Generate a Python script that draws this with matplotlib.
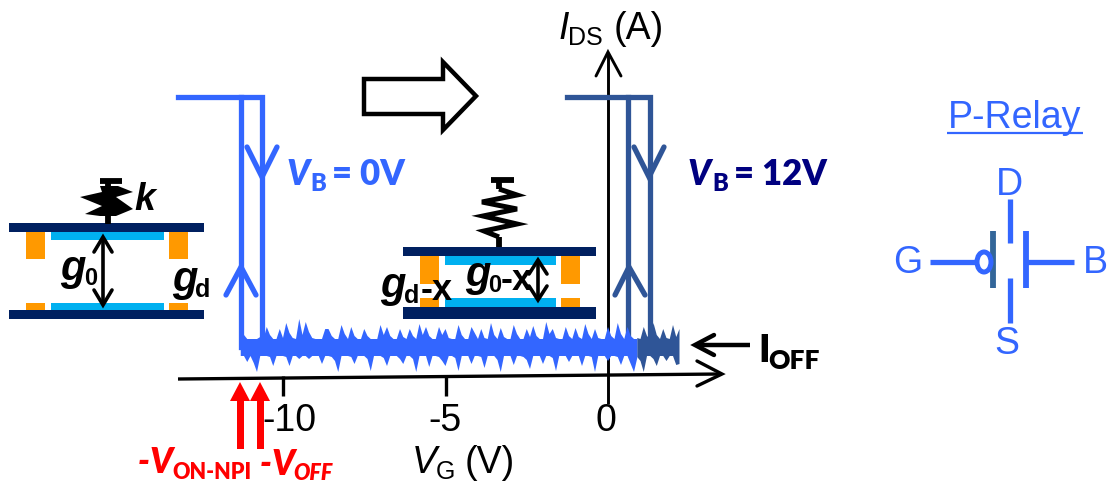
import numpy as np
import matplotlib
matplotlib.use("Agg")
import matplotlib.pyplot as plt
from matplotlib.patches import Rectangle, Ellipse, Polygon

plt.rcParams['font.family'] = ['Liberation Sans', 'DejaVu Sans']

BLUE = '#3366FF'
DARK = '#2F5597'
NAVY = '#002060'
CYAN = '#00B0F0'
ORANGE = '#FF9900'
RED = '#FF0000'
LABEL_NAVY = '#000080'

# sweep curves: gate voltage (V) and level above the off current
on_level = 250
off_level = 0
blue_vg = [-13.23, -10.65, -10.65]
blue_up_vg = [-11.29, -11.29]
dark_vg = [-1.26, 1.29, 1.29]
dark_up_vg = [0.62, 0.62]

# noise floor, one value every 0.1 V
noise_start = -11.3
noise_top = [19, 12, 8, 8, 8, 8, 10, 8, 20, 12, 8, 8, 18, 9, 24, 14, 9, 8, 28, 12,
             25, 15, 9, 8, 8, 8, 18, 18, 11, 8, 8, 22, 13, 8, 20, 11, 8, 8, 18, 11,
             8, 8, 8, 22, 12, 20, 11, 8, 8, 18, 10, 8, 18, 11, 8, 23, 12, 20, 11, 8,
             8, 20, 12, 18, 9, 8, 8, 22, 12, 8, 8, 20, 14, 8, 18, 9, 8, 24, 12, 8,
             19, 10, 8, 8, 22, 13, 8, 8, 18, 10, 21, 11, 8, 8, 25, 13, 18, 9, 8, 8,
             20, 11, 8, 19, 10, 8, 23, 13, 8, 18, 9, 8, 8, 20, 11, 8, 24, 13, 8, 20,
             11, 8, 8]
noise_bot = [-9, -9, -15, -9, -16, -25, -9, -9, -9, -10, -19, -9, -9, -9, -10, -19, -9, -9, -12, -9,
             -9, -12, -9, -9, -9, -17, -9, -9, -10, -14, -25, -9, -9, -9, -10, -17, -9, -9, -9, -12,
             -24, -9, -9, -9, -11, -19, -9, -9, -9, -12, -17, -9, -9, -12, -25, -9, -9, -9, -20, -9,
             -9, -10, -14, -19, -9, -9, -11, -24, -9, -9, -9, -17, -9, -9, -10, -21, -9, -9, -9, -13,
             -25, -9, -9, -9, -18, -9, -9, -10, -13, -22, -9, -9, -9, -17, -9, -9, -11, -24, -9, -9,
             -9, -15, -9, -9, -9, -19, -9, -9, -10, -25, -9, -9, -9, -14, -9, -9, -10, -18, -9, -9,
             -17, -25, -11]
dark_start = 0.9
dark_top = [9, 8, 20, 11, 8, 24, 12, 8, 18, 9, 8, 22, 10, 18]
dark_bot = [-10, -14, -25, -9, -9, -12, -19, -9, -9, -14, -9, -9, -18, -17]

# axis ticks
tick_vg = [-10, -5, 0]
tick_labels = ['-10', '-5', '0']
tick_label_px = [289, 445, 606]

# schematic geometry, figure pixels
spring1 = [(100, 187), (118, 187), (133, 193), (116, 198), (133, 210), (116, 217), (100, 217),
           (85, 215), (102, 207), (80, 198), (102, 193)]
spring2 = [(499, 190), (517, 196), (482, 203), (517, 210), (483, 217), (517, 225), (484, 232), (499, 238)]
hollow_arrow = [(364, 80), (443, 80), (443, 63), (476, 97), (443, 131), (443, 115), (364, 115)]

fig = plt.figure(figsize=(11.08, 4.85), dpi=100)

# pixel axes for the drawn schematic parts
ax = fig.add_axes([0, 0, 1, 1])
ax.set_xlim(0, 1108)
ax.set_ylim(485, 0)
ax.axis('off')

# I-V axes on top, same area
iv = fig.add_axes([0, 0, 1, 1])
iv.set_xlim((0 - 608) / 32.5, (1108 - 608) / 32.5)
iv.set_ylim(-137, 348)
iv.axis('off')
iv.patch.set_alpha(0)


def line(pts, color='black', lw=3.0, z=5, cap='butt'):
    xs = [p[0] for p in pts]
    ys = [p[1] for p in pts]
    ax.plot(xs, ys, color=color, lw=lw, zorder=z, solid_capstyle=cap, solid_joinstyle='miter')


def rect(x0, y0, x1, y1, color, z=6):
    ax.add_patch(Rectangle((x0, y0), x1 - x0, y1 - y0, color=color, lw=0, zorder=z))


def txt(x, y, s, size=27, color='black', weight='normal', style='normal', ha='left', family='Liberation Sans'):
    ax.text(x, y, s, fontsize=size, color=color, fontweight=weight, fontstyle=style,
            ha=ha, va='baseline', zorder=12, family=family)


# axes arrows
line([(178, 380), (722, 375)], lw=2.4)
line([(697, 362), (722, 375), (697, 387)], lw=2.4, cap='round')
line([(608, 405), (608, 55)], lw=2.1)
line([(596, 77), (608, 53), (621, 77)], lw=2.1, cap='round')
for v, lab, lx in zip(tick_vg, tick_labels, tick_label_px):
    px = 608 + 32.5 * v
    if v != 0:
        line([(px, 377), (px, 397)], lw=2.4)
    txt(lx, 431, lab, ha='center')

# noise floor
dx = np.arange(len(dark_top)) * 0.1 + dark_start
dxb = np.arange(len(dark_bot)) * 0.1 + dark_start
iv.fill(np.r_[dx, dxb[::-1]], np.r_[dark_top, dark_bot[::-1]], color=DARK, lw=0, zorder=3)
bx = np.arange(len(noise_top)) * 0.1 + noise_start
bxb = np.arange(len(noise_bot)) * 0.1 + noise_start
iv.fill(np.r_[bx, bxb[::-1]], np.r_[noise_top, noise_bot[::-1]], color=BLUE, lw=0, zorder=4)

# sweep curves
iv.plot(dark_vg, [on_level, on_level, off_level], color=DARK, lw=3.8, zorder=2, solid_joinstyle='miter')
iv.plot(dark_up_vg, [off_level, on_level], color=DARK, lw=3.8, zorder=2)
iv.plot(blue_vg, [on_level, on_level, off_level], color=BLUE, lw=3.8, zorder=4, solid_joinstyle='miter')
iv.plot(blue_up_vg, [off_level, on_level], color=BLUE, lw=3.8, zorder=4)

# direction chevrons
line([(247, 148), (262, 178), (277, 148)], BLUE, 3.8, cap='round')
line([(226, 296), (241, 268), (256, 296)], BLUE, 3.8, cap='round')
line([(634, 148), (649, 178), (664, 148)], DARK, 3.8, cap='round')
line([(615, 296), (629, 268), (645, 296)], DARK, 3.8, cap='round')

# shift arrow
ax.add_patch(Polygon(hollow_arrow, closed=True, fc='white', ec='black', lw=3.2, zorder=5, joinstyle='miter'))

# left relay
rect(9, 224, 204, 233, NAVY)
rect(9, 311, 204, 320, NAVY)
rect(26, 233, 45, 260, ORANGE)
rect(169, 233, 188, 260, ORANGE)
rect(26, 304, 45, 311, ORANGE)
rect(169, 304, 188, 311, ORANGE)
rect(51, 233, 164, 241, CYAN)
rect(51, 304, 164, 311, CYAN)
line([(100, 182), (122, 182)], lw=4.2, z=7)
line([(108, 182), (108, 225)], lw=4.2, z=7)
ax.add_patch(Polygon(spring1, closed=True, color='black', lw=0, zorder=7))
line([(103, 239), (103, 305)], lw=2.6, z=8)
line([(94, 253), (103, 238), (112, 253)], lw=2.6, z=8, cap='round')
line([(94, 291), (103, 306), (112, 291)], lw=2.6, z=8, cap='round')
txt(134, 210, 'k', 27, weight='bold', style='italic')
txt(60, 280, 'g', 30, weight='bold', style='italic')
txt(84, 285, '0', 17, weight='bold')
txt(172, 291, 'g', 30, weight='bold', style='italic')
txt(195, 297, 'd', 18, weight='bold')

# right relay
rect(403, 248, 596, 257, NAVY)
rect(403, 308, 596, 320, NAVY)
rect(420, 257, 439, 285, ORANGE)
rect(561, 257, 580, 285, ORANGE)
rect(420, 299, 439, 308, ORANGE)
rect(561, 299, 580, 308, ORANGE)
rect(445, 257, 556, 266, CYAN)
rect(445, 299, 556, 308, CYAN)
line([(491, 181), (514, 181)], lw=4.2, z=7)
line([(499, 181), (499, 190)], lw=4.2, z=7)
line([(499, 238), (499, 248)], lw=4.2, z=7)
line(spring2, lw=3.6, z=7)
line([(538, 262), (538, 300)], lw=2.6, z=8)
line([(529, 275), (538, 261), (547, 275)], lw=2.6, z=8, cap='round')
line([(529, 287), (538, 301), (547, 287)], lw=2.6, z=8, cap='round')
txt(465, 286, 'g', 30, weight='bold', style='italic')
txt(488, 292, '0', 17, weight='bold')
txt(501, 290, '-x', 26, weight='bold')
txt(380, 297, 'g', 30, weight='bold', style='italic')
txt(404, 303, 'd', 18, weight='bold')
txt(421, 300, '-x', 26, weight='bold')

# curve labels
txt(287, 185, 'V', 25, BLUE, 'heavy', 'italic', family='Lato')
txt(310, 191, 'B', 17, BLUE, 'heavy', family='Lato')
txt(332, 185, '= 0V', 25, BLUE, 'heavy', family='Lato')
txt(688, 185, 'V', 25, LABEL_NAVY, 'heavy', 'italic', family='Lato')
txt(712, 191, 'B', 17, LABEL_NAVY, 'heavy', family='Lato')
txt(734, 185, '= 12V', 25, LABEL_NAVY, 'heavy', family='Lato')

# axis labels
txt(559, 39, 'I', 27, style='italic')
txt(568, 45, 'DS', 18)
txt(614, 39, '(A)', 27)
txt(412, 473, 'V', 27, style='italic')
txt(436, 479, 'G', 18)
txt(465, 473, '(V)', 27)

# I_OFF callout
line([(750, 346), (697, 346)], lw=3.2)
line([(714, 336), (695, 346), (714, 356)], lw=3.2, cap='round')
txt(758, 362, 'I', 27, weight='heavy', family='Lato')
txt(768, 369, 'OFF', 19, weight='heavy', family='Lato')

# red voltage markers
for px in (240, 260):
    rect(px - 3.5, 402, px + 3.5, 450, RED)
    ax.add_patch(Polygon([(px - 10, 402), (px, 383), (px + 10, 402)], closed=True, color=RED, lw=0, zorder=6))
txt(138, 473, '-', 25, RED, 'heavy', 'italic', family='Lato')
txt(150, 473, 'V', 25, RED, 'heavy', 'italic', family='Lato')
txt(172, 479, 'ON-NPI', 15.5, RED, 'heavy', family='Lato')
txt(260, 475, '-', 25, RED, 'heavy', 'italic', family='Lato')
txt(272, 475, 'V', 25, RED, 'heavy', 'italic', family='Lato')
txt(293, 480, 'OFF', 15.5, RED, 'heavy', 'italic', family='Lato')

# P-Relay symbol
txt(1015, 128, 'P-Relay', 27, BLUE, ha='center')
line([(947, 134), (1083, 134)], BLUE, 1.6)
line([(1010, 200), (1010, 244)], BLUE, 3.8)
line([(1010, 279), (1010, 324)], BLUE, 3.8)
line([(993, 232), (993, 289)], '#336699', 4.2)
line([(1026, 232), (1026, 289)], BLUE, 4.2)
line([(1026, 263), (1074, 263)], BLUE, 3.8)
line([(930, 263), (976, 263)], BLUE, 3.8)
ax.add_patch(Ellipse((984, 263), 14, 20, fc='white', ec=BLUE, lw=3.6, zorder=7))
txt(1009, 195, 'D', 27, BLUE, ha='center')
txt(1007, 354, 'S', 27, BLUE, ha='center')
txt(908, 273, 'G', 27, BLUE, ha='center')
txt(1095, 273, 'B', 27, BLUE, ha='center')

fig.savefig('out.png', dpi=100)
